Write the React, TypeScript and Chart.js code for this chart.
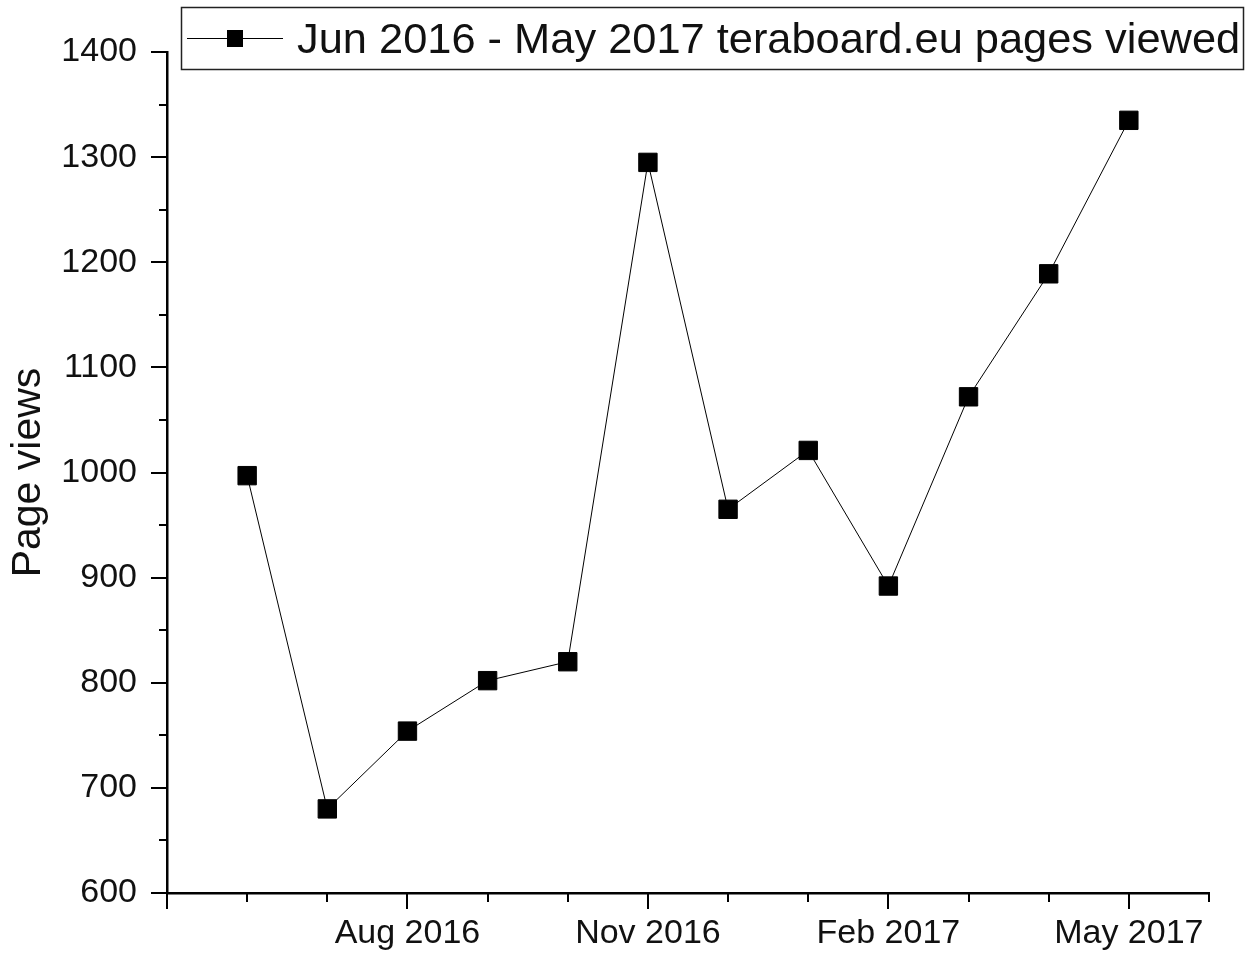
import React, { useEffect, useRef } from "react";
import { Chart, registerables } from "chart.js";

Chart.register(...registerables);

// Month index: 0 = Jun 2016 ... 11 = May 2017
const monthIndex = [0, 1, 2, 3, 4, 5, 6, 7, 8, 9, 10, 11];
const pageViews = [997, 680, 754, 802, 820, 1295, 965, 1021, 892, 1072, 1189, 1335];
const xTickLabels: Record<number, string> = {
  2: "Aug 2016",
  5: "Nov 2016",
  8: "Feb 2017",
  11: "May 2017",
};
const xMajorTicks = [-1, 2, 5, 8, 11];
const seriesLabel = "Jun 2016 - May 2017 teraboard.eu pages viewed";
const yTitle = "Page views";
const FONT = "'Liberation Sans', Arial, sans-serif";

const tickPlugin = {
  id: "originTicks",
  afterDraw(chart: any) {
    const ctx = chart.ctx;
    const xs = chart.scales.x;
    const ys = chart.scales.y;
    const area = chart.chartArea;
    ctx.save();
    ctx.strokeStyle = "#000";
    ctx.lineWidth = 2;
    // y ticks
    for (let v = 600; v <= 1400; v += 50) {
      const y = Math.round(ys.getPixelForValue(v));
      const len = v % 100 === 0 ? 16 : 8;
      ctx.beginPath();
      ctx.moveTo(area.left, y);
      ctx.lineTo(area.left - len, y);
      ctx.stroke();
    }
    // x ticks
    for (let m = -1; m <= 12; m++) {
      const x = Math.round(xs.getPixelForValue(m));
      const len = xMajorTicks.includes(m) ? 16 : 9;
      ctx.beginPath();
      ctx.moveTo(x, area.bottom);
      ctx.lineTo(x, area.bottom + len);
      ctx.stroke();
    }
    // legend box
    ctx.lineWidth = 1.5;
    ctx.strokeStyle = "#222";
    ctx.strokeRect(181.5, 7.5, 1062, 62);
    ctx.lineWidth = 1;
    ctx.strokeStyle = "#000";
    ctx.beginPath();
    ctx.moveTo(187, 38.5);
    ctx.lineTo(283, 38.5);
    ctx.stroke();
    ctx.fillStyle = "#000";
    ctx.fillRect(227, 30, 16, 17);
    ctx.font = `43.4px ${FONT}`;
    ctx.textBaseline = "alphabetic";
    ctx.textAlign = "left";
    ctx.fillStyle = "#111";
    ctx.fillText(seriesLabel, 297, 53);
    ctx.restore();
  },
};

export default function App() {
  const ref = useRef<HTMLCanvasElement | null>(null);
  useEffect(() => {
    if (!ref.current) return;
    const chart = new Chart(ref.current, {
      type: "line",
      data: {
        datasets: [
          {
            label: seriesLabel,
            data: monthIndex.map((m, i) => ({ x: m, y: pageViews[i] })),
            borderColor: "#000",
            borderWidth: 1,
            backgroundColor: "#000",
            pointStyle: "rect",
            pointRadius: 13,
            pointBorderWidth: 1,
            pointBorderColor: "#000",
            pointBackgroundColor: "#000",
            tension: 0,
          },
        ],
      },
      options: {
        animation: false,
        responsive: true,
        maintainAspectRatio: false,
        layout: { padding: { top: 52, right: 41, left: 0, bottom: 0 } },
        plugins: {
          legend: { display: false },
          tooltip: { enabled: false },
        },
        scales: {
          x: {
            type: "linear",
            min: -1,
            max: 12,
            afterFit: (s: any) => {
              s.height = 63;
            },
            afterBuildTicks: (s: any) => {
              const t = [];
              for (let m = -1; m <= 12; m++) t.push({ value: m });
              s.ticks = t;
            },
            grid: { display: true, drawOnChartArea: false, drawTicks: false },
            border: { display: true, color: "#000", width: 2.5 },
            ticks: {
              autoSkip: false,
              maxRotation: 0,
              padding: 20,
              color: "#111",
              font: { family: FONT, size: 34 },
              callback: (v: any) => xTickLabels[Number(v)] ?? "",
            },
          },
          y: {
            type: "linear",
            min: 600,
            max: 1400,
            afterFit: (s: any) => {
              s.width = 167;
            },
            grid: { display: true, drawOnChartArea: false, drawTicks: false },
            border: { display: true, color: "#000", width: 2.5 },
            ticks: {
              stepSize: 50,
              autoSkip: false,
              padding: 30,
              color: "#111",
              font: { family: FONT, size: 34 },
              callback: (v: any) => (Number(v) % 100 === 0 ? String(v) : ""),
            },
            title: {
              display: true,
              text: yTitle,
              color: "#111",
              font: { family: FONT, size: 41 },
              padding: { top: 4, bottom: 0 },
            },
          },
        },
      },
      plugins: [tickPlugin],
    });
    return () => chart.destroy();
  }, []);
  return (
    <div style={{ position: "absolute", left: 0, top: 0, width: 1250, height: 956, background: "#fff" }}>
      <canvas ref={ref} />
    </div>
  );
}
